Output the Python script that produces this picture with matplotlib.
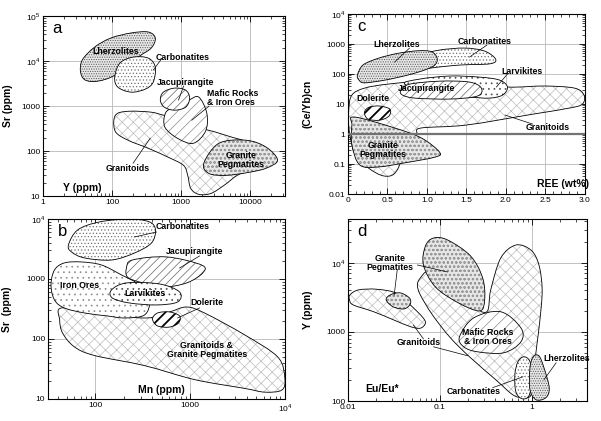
import numpy as np
import matplotlib
matplotlib.use('Agg')
import matplotlib.pyplot as plt
from matplotlib.path import Path
from matplotlib.patches import PathPatch
from matplotlib.ticker import MultipleLocator

plt.rcParams['font.family'] = ['Liberation Sans', 'DejaVu Sans']
plt.rcParams['mathtext.fontset'] = 'custom'
plt.rcParams['mathtext.rm'] = 'Liberation Sans'
plt.rcParams['hatch.linewidth'] = 0.5

#%% Field outlines (x values, y values)

# panel a : Sr vs Y
a_lherz_x = [35, 37, 56, 96, 188, 333, 421, 368, 238, 110, 62, 41]
a_lherz_y = [5700, 10600, 20600, 32700, 42300, 44500, 32700, 19600, 12300, 4900, 3600, 3800]
a_carb_x = [109, 130, 201, 333, 421, 393, 301, 188, 121]
a_carb_y = [4430, 9080, 12300, 11700, 7400, 3430, 2390, 2050, 2650]
a_jac_x = [498, 551, 798, 1156, 1322, 1156, 798, 570]
a_jac_y = [1360, 2050, 2520, 2270, 1510, 950, 815, 950]
a_maf_x = [1790, 2340, 2250, 1500, 900, 580, 590, 771, 1280]
a_maf_y = [1590, 698, 280, 150, 190, 340, 698, 950, 1360]
a_gran_x = [106, 121, 188, 368, 551, 1077, 1980, 3170, 5430, 9630, 14900, 20200,
            9630, 6430, 4150, 2680, 1790, 1370, 1240, 1077, 651, 333, 170, 113]
a_gran_y = [488, 698, 774, 735, 631, 488, 324, 264, 204, 158, 116, 70,
            37.6, 29, 17.4, 11.5, 11, 14.9, 29, 48.5, 73, 116, 175, 264]
a_peg_x = [2120, 3510, 8710, 17000, 24700, 17000, 9630, 4450, 2510]
a_peg_y = [54, 150, 175, 122, 63, 42, 34, 29, 32]

# panel b : Sr vs Mn
b_carb_x = [52, 65, 110, 229, 373, 431, 391, 259, 148, 77, 56]
b_carb_y = [3690, 6560, 8910, 10000, 8910, 6560, 3980, 2710, 2070, 2240, 2820]
b_iron_x = [34, 37, 47, 71, 116, 188, 292, 373, 330, 203, 134, 77, 47, 37]
b_iron_y = [794, 1410, 1850, 1920, 1710, 1170, 794, 447, 251, 224, 242, 271, 329, 447]
b_jac_x = [213, 246, 564, 1320, 1360, 918, 512, 292, 218]
b_jac_y = [1520, 2070, 2330, 1710, 1260, 858, 735, 891, 1080]
b_larv_x = [148, 213, 475, 774, 738, 443, 229, 151]
b_larv_y = [656, 858, 826, 607, 414, 369, 398, 482]
b_dol_x = [401, 453, 607, 774, 755, 607, 453]
b_dol_y = [215, 271, 282, 242, 185, 158, 165]
b_gran_x = [44, 110, 347, 607, 918, 1420, 3770, 8430, 10000, 9300, 6140, 3770,
            1120, 330, 98, 60, 45, 42]
b_gran_y = [329, 261, 224, 282, 341, 271, 117, 50, 22.4, 14.1, 13, 15,
            21, 36, 53, 74, 126, 207]

# panel c : (Ce/Yb)cn vs REE
c_lherz_x = [0.12, 0.19, 0.38, 0.63, 0.89, 1.06, 1.13, 1.10, 0.97, 0.76, 0.47, 0.21, 0.14]
c_lherz_y = [93, 200, 333, 490, 598, 554, 333, 200, 136, 93, 63, 51, 63]
c_carb_x = [1.16, 1.48, 1.73, 1.87, 1.80, 1.42, 1.04, 0.66, 0.34, 0.21, 0.53, 0.91]
c_carb_y = [631, 735, 584, 316, 220, 200, 158, 108, 68, 54, 200, 430]
c_gran_x = [0.05, 0.21, 0.50, 0.97, 1.54, 2.02, 2.49, 2.87, 2.99, 2.97, 2.81, 2.34,
            1.50, 0.93, 0.87, 0.82, 0.72, 0.63, 0.53, 0.36, 0.11, 0.02, 0.01]
c_gran_y = [20, 34, 46, 58, 54, 37, 40, 34, 20, 10, 7.4, 4.6,
            2.0, 1.6, 1.08, 0.74, 0.29, 0.068, 0.04, 0.05, 0.17, 1.08, 6.3]
c_jac_x = [0.67, 0.78, 1.16, 1.54, 1.69, 1.64, 1.29, 0.85, 0.69]
c_jac_y = [29, 46, 58, 54, 34, 18.5, 14.7, 15.8, 20]
c_larv_x = [0.72, 0.91, 1.29, 1.67, 1.92, 2.02, 1.96, 1.79, 1.54, 1.16]
c_larv_y = [46, 68, 86, 79, 63, 37, 20, 15.8, 17, 18.5]
c_dol_x = [0.21, 0.27, 0.40, 0.53, 0.52, 0.40, 0.25]
c_dol_y = [5.4, 7.9, 8.6, 6.8, 4.0, 2.9, 3.2]
c_peg_x = [0.08, 0.59, 0.93, 1.16, 1.10, 0.72, 0.38, 0.15, 0.05, 0.05]
c_peg_y = [3.7, 1.6, 0.74, 0.25, 0.17, 0.11, 0.08, 0.093, 0.43, 2.0]

# panel d : Y vs Eu/Eu*
d_granL_x = [0.0105, 0.013, 0.0206, 0.034, 0.0476, 0.0639, 0.0695, 0.0612, 0.0476,
             0.0313, 0.0189, 0.0114, 0.0104]
d_granL_y = [3420, 4040, 4130, 3610, 2450, 1660, 1340, 1130, 1190, 1490, 1960, 2450, 2900]
d_granM_x = [0.0612, 0.0748, 0.115, 0.215, 0.322, 0.356, 0.458, 0.668, 0.975, 1.19, 1.29,
             1.22, 1.13, 1.05, 0.975, 0.798, 0.619, 0.404, 0.215, 0.130, 0.0828, 0.0612, 0.0568]
d_granM_y = [6010, 7340, 4770, 2450, 1950, 4040, 11700, 18000, 15200, 9270, 4040,
             1490, 649, 283, 123, 112, 123, 203, 422, 819, 1760, 3420, 4770]
d_pegB_x = [0.0695, 0.0849, 0.121, 0.215, 0.291, 0.306, 0.270, 0.159, 0.0893, 0.0661]
d_pegB_y = [17400, 22700, 21300, 12500, 6010, 2900, 2010, 2620, 4450, 9270]
d_pegS_x = [0.026, 0.0288, 0.037, 0.0464, 0.0476, 0.0409, 0.031]
d_pegS_y = [2900, 3420, 3660, 3100, 2540, 2150, 2300]
d_maf_x = [0.163, 0.232, 0.458, 0.758, 0.758, 0.494, 0.257, 0.181]
d_maf_y = [847, 1590, 1950, 1140, 717, 498, 514, 608]
d_carb_x = [0.652, 0.703, 0.818, 0.951, 1.0, 0.927, 0.778, 0.668]
d_carb_y = [240, 369, 436, 369, 203, 119, 108, 136]
d_lherz_x = [0.951, 1.03, 1.19, 1.35, 1.54, 1.42, 1.11, 0.951]
d_lherz_y = [303, 436, 450, 303, 156, 112, 104, 146]

#%% Labels (text, x, y, ha) and leader lines (x0, y0, x1, y1)

a_labels = [('Lherzolites', 113, 16000, 'center'), ('Carbonatites', 421, 12300, 'left'),
            ('Jacupirangite', 1160, 3430, 'center'), ('Mafic Rocks\n& Iron Ores', 2340, 1510, 'left'),
            ('Granitoids', 170, 42, 'center'), ('Granite\nPegmatites', 7380, 63, 'center')]
a_leaders = [(394, 6340, 515, 11100), (912, 1360, 1080, 2790),
             (1420, 488, 2510, 1000), (356, 194, 201, 54)]

b_labels = [('Carbonatites', 431, 7360, 'left'), ('Jacupirangite', 1120, 2820, 'center'),
            ('Iron Ores', 68, 764, 'center'), ('Larvikites', 338, 562, 'center'),
            ('Dolerite', 1500, 398, 'center'), ('Granitoids &\nGranite Pegmatites', 1500, 66, 'center')]
b_leaders = [(259, 5010, 443, 6070), (774, 1520, 1260, 2420), (738, 224, 1260, 329)]

c_labels = [('Lherzolites', 0.62, 1000, 'center'), ('Carbonatites', 1.73, 1260, 'center'),
            ('Larvikites', 2.2, 126, 'center'), ('Jacupirangite', 1.0, 32, 'center'),
            ('Dolerite', 0.31, 15.8, 'center'), ('Granitoids', 2.53, 1.7, 'center'),
            ('Granite\nPegmatites', 0.44, 0.29, 'center')]
c_leaders = [(0.59, 251, 0.78, 735), (1.54, 369, 1.76, 926), (1.88, 37, 2.02, 100),
             (1.99, 4.3, 2.34, 2.15)]

d_labels = [('Granite\nPegmatites', 0.0288, 9900, 'center'), ('Mafic Rocks\n& Iron Ores', 0.33, 847, 'center'),
            ('Granitoids', 0.0582, 693, 'center'), ('Lherzolites', 2.36, 408, 'center'),
            ('Carbonatites', 0.232, 136, 'center')]
d_leaders = [(0.0318, 3420, 0.0343, 7850), (0.121, 7340, 0.0568, 9270),
             (0.0513, 1260, 0.066, 792), (0.2, 451, 0.085, 608),
             (1.35, 203, 1.83, 357), (0.798, 224, 0.375, 156)]

STYLE = {
    'lherz': dict(hatch='.......', hc='0.35', fc='0.9'),
    'carb': dict(hatch='.....', hc='0.45', fc='white'),
    'gran': dict(hatch='xxx', hc='0.74', fc='white'),
    'peg': dict(hatch='oooo', hc='0.6', fc='0.9'),
    'jac': dict(hatch='////', hc='0.4', fc='white'),
    'maf': dict(hatch='///', hc='0.55', fc='white'),
    'dol': dict(hatch='///', hc='black', fc='white', hlw=1.3),
    'larv': dict(hatch='...', hc='0.3', fc='white'),
    'iron': dict(hatch='...', hc='0.55', fc='white'),
}


def field(ax, xs, ys, style, logx=True, z=2):
    """Closed smooth outline through the read-off points (in log space)."""
    s = STYLE[style]
    u = np.log10(xs) if logx else np.asarray(xs, float)
    v = np.log10(ys)
    p = np.column_stack([u, v])
    n = len(p)
    verts = [p[0]]
    codes = [Path.MOVETO]
    for i in range(n):
        p0, p1, p2, p3 = p[i - 1], p[i], p[(i + 1) % n], p[(i + 2) % n]
        verts += [p1 + (p2 - p0) / 6, p2 - (p3 - p1) / 6, p2]
        codes += [Path.CURVE4] * 3
    verts.append(p[0])
    codes.append(Path.CLOSEPOLY)
    verts = np.array(verts)
    if logx:
        verts[:, 0] = 10 ** verts[:, 0]
    verts[:, 1] = 10 ** verts[:, 1]
    path = Path(verts, codes)
    fill = PathPatch(path, facecolor=s['fc'], edgecolor=s['hc'], hatch=s['hatch'],
                     lw=0, zorder=z)
    if 'hlw' in s and hasattr(fill, 'set_hatch_linewidth'):
        fill.set_hatch_linewidth(s['hlw'])
    ax.add_patch(fill)
    ax.add_patch(PathPatch(path, fill=False, edgecolor='k', lw=0.6, zorder=z))


def setup(ax, xlim, ylim, xt, xl, yt, yl, logx=True):
    if logx:
        ax.set_xscale('log')
    ax.set_yscale('log')
    ax.set_xlim(xlim)
    ax.set_ylim(ylim)
    ax.set_xticks(xt, xl)
    ax.set_yticks(yt, yl)
    ax.tick_params(which='both', direction='in', top=True, right=True, labelsize=6, pad=2)
    ax.tick_params(which='major', length=4, width=0.6)
    ax.tick_params(which='minor', length=2, width=0.5)
    ax.grid(True, which='major', color='0.72', lw=0.6)
    ax.set_axisbelow(True)
    for sp in ax.spines.values():
        sp.set_linewidth(0.8)


def annotate(ax, labels, leaders, letter, xlab, xlab_pos):
    for x0, y0, x1, y1 in leaders:
        ax.plot([x0, x1], [y0, y1], color='k', lw=0.5, zorder=6)
    for t, x, y, ha in labels:
        ax.text(x, y, t, ha=ha, va='center', fontsize=6.3, fontweight='bold',
                linespacing=0.95, zorder=8)
    ax.text(0.04, 0.93, letter, transform=ax.transAxes, fontsize=12, va='center', ha='left')
    ax.text(xlab_pos[0], xlab_pos[1], xlab, transform=ax.transAxes, fontsize=7.5,
            fontweight='bold', ha='center', va='center')


fig = plt.figure(figsize=(6.01, 4.21), dpi=100)
ax_a = fig.add_axes([0.0715, 0.534, 0.4027, 0.4276])
ax_c = fig.add_axes([0.579, 0.539, 0.394, 0.4276])
ax_b = fig.add_axes([0.0799, 0.0523, 0.394, 0.4276])
ax_d = fig.add_axes([0.579, 0.0475, 0.398, 0.432])

#%% a
setup(ax_a, (10, 10 ** 4.5), (10, 1e5), [10, 100, 1000, 10000], ['1', '100', '1000', '10000'],
      [10, 100, 1000, 1e4, 1e5], ['10', '100', '1000', '10$^{4}$', '10$^{5}$'])
field(ax_a, a_lherz_x, a_lherz_y, 'lherz')
field(ax_a, a_carb_x, a_carb_y, 'carb')
field(ax_a, a_gran_x, a_gran_y, 'gran')
field(ax_a, a_peg_x, a_peg_y, 'peg')
field(ax_a, a_maf_x, a_maf_y, 'maf')
field(ax_a, a_jac_x, a_jac_y, 'jac')
annotate(ax_a, a_labels, a_leaders, 'a', 'Y (ppm)', (0.161, 0.044))
ax_a.set_ylabel('Sr (ppm)', fontsize=7.5, fontweight='bold')
ax_a.yaxis.set_label_coords(-0.124, 0.5)

#%% b
setup(ax_b, (10 ** 1.5, 1e4), (10, 1e4), [100, 1000, 10000], ['100', '1000', '10$^{4}$'],
      [10, 100, 1000, 1e4], ['10', '100', '1000', '10$^{4}$'])
field(ax_b, b_gran_x, b_gran_y, 'gran')
field(ax_b, b_iron_x, b_iron_y, 'iron')
field(ax_b, b_carb_x, b_carb_y, 'carb')
field(ax_b, b_jac_x, b_jac_y, 'jac')
field(ax_b, b_larv_x, b_larv_y, 'larv')
field(ax_b, b_dol_x, b_dol_y, 'dol')
annotate(ax_b, b_labels, b_leaders, 'b', 'Mn (ppm)', (0.48, 0.05))
ax_b.set_ylabel('Sr  (ppm)', fontsize=7.5, fontweight='bold')
ax_b.yaxis.set_label_coords(-0.152, 0.5)

#%% c
setup(ax_c, (0, 3), (0.01, 1e4), [0, 0.5, 1, 1.5, 2, 2.5, 3],
      ['0', '0.5', '1.0', '1.5', '2.0', '2.5', '3.0'],
      [0.01, 0.1, 1, 10, 100, 1000, 1e4], ['0.01', '0.1', '1', '10', '100', '1000', '10$^{4}$'],
      logx=False)
ax_c.xaxis.set_minor_locator(MultipleLocator(0.1))
field(ax_c, c_gran_x, c_gran_y, 'gran', logx=False)
field(ax_c, c_carb_x, c_carb_y, 'carb', logx=False)
field(ax_c, c_lherz_x, c_lherz_y, 'lherz', logx=False)
field(ax_c, c_larv_x, c_larv_y, 'larv', logx=False)
field(ax_c, c_jac_x, c_jac_y, 'jac', logx=False)
field(ax_c, c_dol_x, c_dol_y, 'dol', logx=False)
field(ax_c, c_peg_x, c_peg_y, 'peg', logx=False)
ax_c.axhline(1, color='0.45', lw=1.6, zorder=5)
annotate(ax_c, c_labels, c_leaders, 'c', 'REE (wt%)', (0.907, 0.055))
ax_c.set_ylabel('(Ce/Yb)cn', fontsize=7.5, fontweight='bold')
ax_c.yaxis.set_label_coords(-0.148, 0.5)

#%% d
setup(ax_d, (0.01, 10 ** 0.6), (100, 10 ** 4.63), [0.01, 0.1, 1], ['0.01', '0.1', '1'],
      [100, 1000, 1e4], ['100', '1000', '10$^{4}$'])
field(ax_d, d_granL_x, d_granL_y, 'gran')
field(ax_d, d_granM_x, d_granM_y, 'gran')
field(ax_d, d_maf_x, d_maf_y, 'maf')
field(ax_d, d_pegB_x, d_pegB_y, 'peg')
field(ax_d, d_pegS_x, d_pegS_y, 'peg')
field(ax_d, d_carb_x, d_carb_y, 'carb')
field(ax_d, d_lherz_x, d_lherz_y, 'lherz')
annotate(ax_d, d_labels, d_leaders, 'd', 'Eu/Eu*', (0.142, 0.066))
ax_d.set_ylabel('Y (ppm)', fontsize=7.5, fontweight='bold')
ax_d.yaxis.set_label_coords(-0.146, 0.5)

fig.savefig('out.png', dpi=100)
